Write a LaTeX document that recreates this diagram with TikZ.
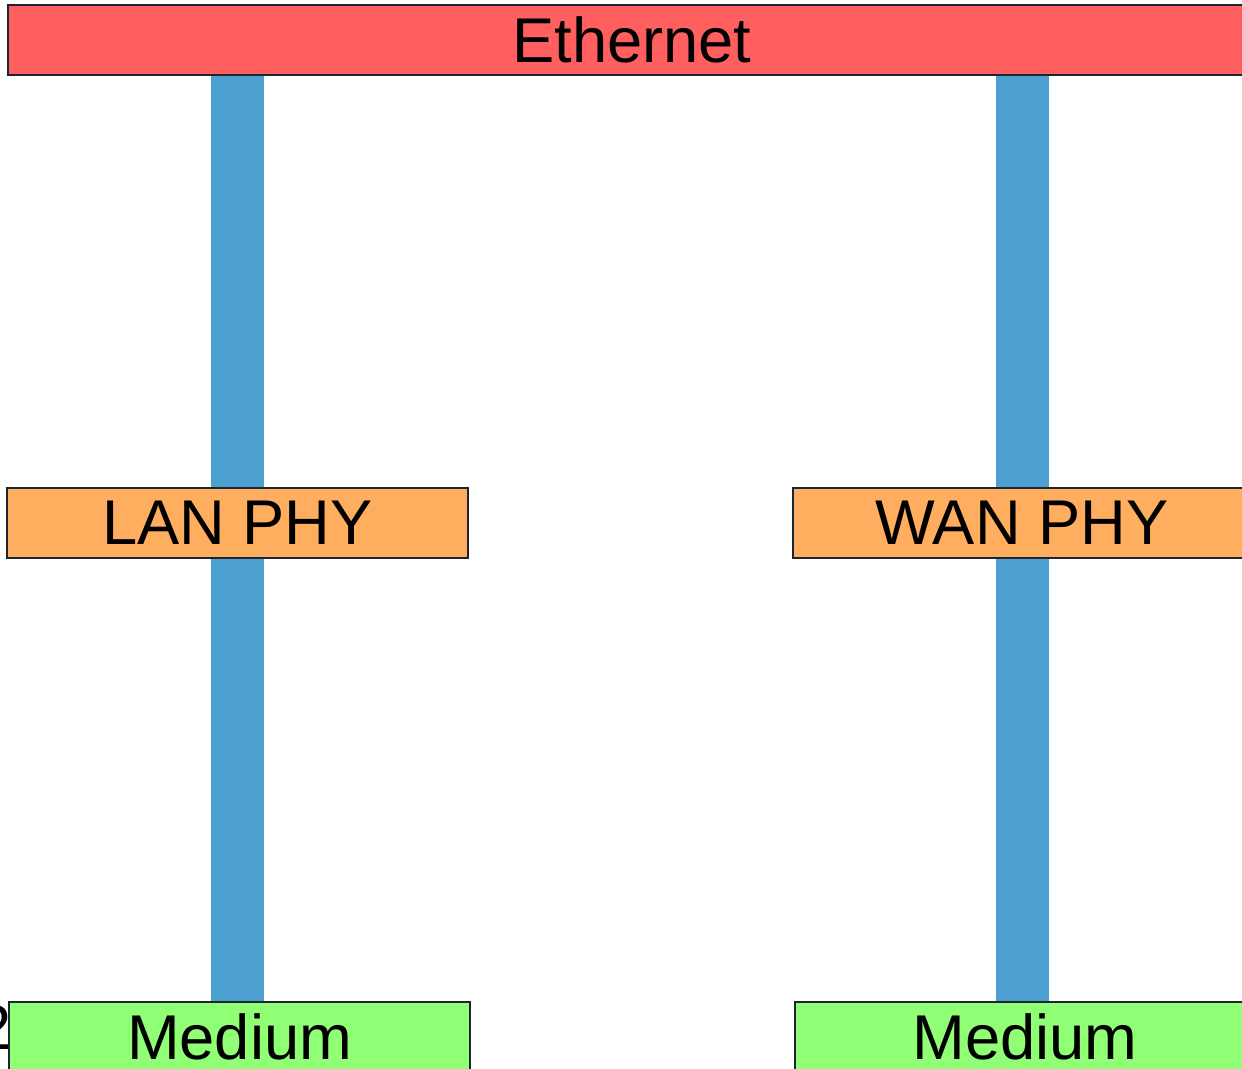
\documentclass[tikz,border=0pt]{standalone}
\usepackage{fontspec}
\setmainfont{Liberation Sans}
\usetikzlibrary{positioning,calc,backgrounds}
\definecolor{ethred}{RGB}{255, 95, 95}
\definecolor{phyorange}{RGB}{255, 173, 94}
\definecolor{mediumgreen}{RGB}{144, 255, 117}
\definecolor{linkblue}{RGB}{75, 160, 208}
\definecolor{boxedge}{RGB}{26, 38, 52}
\tikzset{
    layerbox/.style={draw=boxedge,line width=0.8pt,rectangle,inner sep=0pt,
        minimum height=1.4cm,font=\fontsize{36}{40}\selectfont},
    linkbar/.style={linkblue,line width=1.06cm}
}
\begin{document}
\begin{tikzpicture}[x=0.02cm,y=-0.02cm]
    \useasboundingbox (0,0) rectangle (1242,1069);
    % stray label behind the left medium box
    \node[anchor=east,inner sep=0pt,font=\fontsize{36}{40}\selectfont] (stray) at (12,1027) {2};

    % top layer
    \node[layerbox,fill=ethred,minimum width=24.96cm] (eth) at (632,40) {Ethernet};

    % physical layers
    \node[layerbox,fill=phyorange,minimum width=9.22cm] (lan) at (237.5,523) {LAN PHY};
    \node[layerbox,fill=phyorange,minimum width=9.16cm] (wan) at (1022,523) {WAN PHY};

    % media
    \node[layerbox,fill=mediumgreen,minimum width=9.22cm] (medL) at (239.5,1037) {Medium};
    \node[layerbox,fill=mediumgreen,minimum width=9.2cm] (medR) at (1025,1037) {Medium};

    % vertical links behind the boxes
    \begin{pgfonlayer}{background}
        \draw[linkbar] (lan) -- (lan |- eth);
        \draw[linkbar] (lan) -- (lan |- medL);
        \draw[linkbar] (wan) -- (wan |- eth);
        \draw[linkbar] (wan) -- (wan |- medR);
    \end{pgfonlayer}
\end{tikzpicture}
\end{document}
